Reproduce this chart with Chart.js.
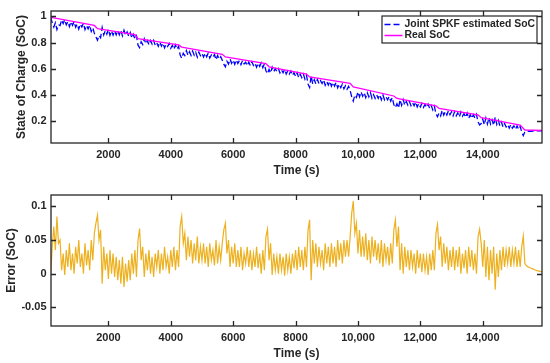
<!DOCTYPE html>
<html>
<head>
<meta charset="utf-8">
<script src="https://cdn.jsdelivr.net/npm/chart.js@4.4.1/dist/chart.umd.min.js"></script>
<style>
  html, body { margin: 0; padding: 0; background: #fff; }
  canvas { display: block; }
</style>
</head>
<body>
<canvas id="socChart" width="550" height="182"></canvas>
<canvas id="errChart" width="550" height="181"></canvas>
<script>
// sample times (s)
const timeS = [
  150, 200, 250, 300, 350, 400, 450, 500, 550, 600,
  650, 700, 750, 800, 850, 900, 950, 1000, 1050, 1100,
  1150, 1200, 1250, 1300, 1350, 1400, 1450, 1500, 1550, 1600,
  1650, 1700, 1750, 1800, 1850, 1900, 1950, 2000, 2050, 2100,
  2150, 2200, 2250, 2300, 2350, 2400, 2450, 2500, 2550, 2600,
  2650, 2700, 2750, 2800, 2850, 2900, 2950, 3000, 3050, 3100,
  3150, 3200, 3250, 3300, 3350, 3400, 3450, 3500, 3550, 3600,
  3650, 3700, 3750, 3800, 3850, 3900, 3950, 4000, 4050, 4100,
  4150, 4200, 4250, 4300, 4350, 4400, 4450, 4500, 4550, 4600,
  4650, 4700, 4750, 4800, 4850, 4900, 4950, 5000, 5050, 5100,
  5150, 5200, 5250, 5300, 5350, 5400, 5450, 5500, 5550, 5600,
  5650, 5700, 5750, 5800, 5850, 5900, 5950, 6000, 6050, 6100,
  6150, 6200, 6250, 6300, 6350, 6400, 6450, 6500, 6550, 6600,
  6650, 6700, 6750, 6800, 6850, 6900, 6950, 7000, 7050, 7100,
  7150, 7200, 7250, 7300, 7350, 7400, 7450, 7500, 7550, 7600,
  7650, 7700, 7750, 7800, 7850, 7900, 7950, 8000, 8050, 8100,
  8150, 8200, 8250, 8300, 8350, 8400, 8450, 8500, 8550, 8600,
  8650, 8700, 8750, 8800, 8850, 8900, 8950, 9000, 9050, 9100,
  9150, 9200, 9250, 9300, 9350, 9400, 9450, 9500, 9550, 9600,
  9650, 9700, 9750, 9800, 9850, 9900, 9950, 10000, 10050, 10100,
  10150, 10200, 10250, 10300, 10350, 10400, 10450, 10500, 10550, 10600,
  10650, 10700, 10750, 10800, 10850, 10900, 10950, 11000, 11050, 11100,
  11150, 11200, 11250, 11300, 11350, 11400, 11450, 11500, 11550, 11600,
  11650, 11700, 11750, 11800, 11850, 11900, 11950, 12000, 12050, 12100,
  12150, 12200, 12250, 12300, 12350, 12400, 12450, 12500, 12550, 12600,
  12650, 12700, 12750, 12800, 12850, 12900, 12950, 13000, 13050, 13100,
  13150, 13200, 13250, 13300, 13350, 13400, 13450, 13500, 13550, 13600,
  13650, 13700, 13750, 13800, 13850, 13900, 13950, 14000, 14050, 14100,
  14150, 14200, 14250, 14300, 14350, 14400, 14450, 14500, 14550, 14600,
  14650, 14700, 14750, 14800, 14850, 14900, 14950, 15000, 15050, 15100,
  15150, 15200, 15250, 15300, 15350, 15400, 15450, 15500, 15550, 15600,
  15650, 15700, 15750, 15800, 15850, 15900
];

// Joint SPKF estimated SoC, same times
const estSoc = [
  0.992, 0.950, 0.918, 0.951, 0.899, 0.936, 0.929, 0.972, 0.945, 0.974,
  0.935, 0.958, 0.921, 0.958, 0.931, 0.959, 0.917, 0.940, 0.902, 0.940,
  0.918, 0.946, 0.898, 0.929, 0.904, 0.932, 0.884, 0.912, 0.870, 0.843,
  0.818, 0.853, 0.836, 0.914, 0.858, 0.891, 0.864, 0.900, 0.855, 0.888,
  0.856, 0.889, 0.858, 0.891, 0.859, 0.892, 0.850, 0.893, 0.856, 0.881,
  0.848, 0.876, 0.834, 0.862, 0.825, 0.850, 0.780, 0.761, 0.806, 0.784,
  0.828, 0.791, 0.814, 0.782, 0.815, 0.788, 0.817, 0.780, 0.798, 0.771,
  0.804, 0.772, 0.795, 0.759, 0.787, 0.770, 0.793, 0.756, 0.779, 0.748,
  0.781, 0.749, 0.772, 0.704, 0.680, 0.718, 0.701, 0.739, 0.702, 0.730,
  0.702, 0.735, 0.703, 0.726, 0.689, 0.727, 0.700, 0.718, 0.690, 0.718,
  0.691, 0.719, 0.682, 0.705, 0.688, 0.709, 0.668, 0.701, 0.674, 0.692,
  0.665, 0.635, 0.615, 0.658, 0.636, 0.674, 0.642, 0.666, 0.634, 0.667,
  0.640, 0.663, 0.631, 0.664, 0.637, 0.650, 0.623, 0.651, 0.624, 0.652,
  0.625, 0.643, 0.612, 0.642, 0.618, 0.646, 0.609, 0.637, 0.585, 0.562,
  0.595, 0.568, 0.612, 0.578, 0.601, 0.579, 0.601, 0.569, 0.592, 0.569,
  0.595, 0.560, 0.583, 0.560, 0.583, 0.551, 0.571, 0.541, 0.569, 0.532,
  0.559, 0.532, 0.560, 0.522, 0.550, 0.484, 0.458, 0.546, 0.484, 0.517,
  0.486, 0.519, 0.487, 0.510, 0.488, 0.516, 0.475, 0.503, 0.476, 0.504,
  0.467, 0.495, 0.468, 0.497, 0.455, 0.483, 0.456, 0.484, 0.447, 0.471,
  0.444, 0.467, 0.435, 0.386, 0.354, 0.399, 0.382, 0.424, 0.386, 0.424,
  0.391, 0.418, 0.381, 0.418, 0.386, 0.418, 0.375, 0.403, 0.375, 0.402,
  0.375, 0.402, 0.364, 0.402, 0.364, 0.386, 0.364, 0.389, 0.353, 0.381,
  0.328, 0.304, 0.334, 0.302, 0.365, 0.322, 0.365, 0.323, 0.351, 0.323,
  0.351, 0.319, 0.342, 0.319, 0.347, 0.310, 0.335, 0.310, 0.336, 0.306,
  0.329, 0.306, 0.331, 0.297, 0.320, 0.287, 0.315, 0.258, 0.235, 0.263,
  0.241, 0.284, 0.247, 0.275, 0.248, 0.281, 0.250, 0.273, 0.241, 0.274,
  0.242, 0.265, 0.233, 0.271, 0.239, 0.259, 0.230, 0.263, 0.222, 0.250,
  0.223, 0.251, 0.224, 0.252, 0.195, 0.173, 0.183, 0.216, 0.174, 0.226,
  0.179, 0.227, 0.180, 0.212, 0.170, 0.232, 0.176, 0.208, 0.166, 0.194,
  0.157, 0.184, 0.157, 0.175, 0.148, 0.175, 0.148, 0.166, 0.139, 0.166,
  0.139, 0.162, 0.119, 0.091, 0.119, 0.122, 0.123, 0.124, 0.124, 0.125,
  0.126, 0.126, 0.127, 0.127, 0.127, 0.127
];

// estimation error (SoC), same times
const errSoc = [
  0.000, 0.040, 0.070, 0.035, 0.085, 0.045, 0.050, 0.005, 0.030, -0.002,
  0.035, 0.010, 0.045, 0.005, 0.030, 0.000, 0.040, 0.015, 0.050, 0.010,
  0.030, 0.000, 0.045, 0.012, 0.035, 0.005, 0.050, 0.020, 0.060, 0.075,
  0.087, 0.050, 0.065, -0.015, 0.040, 0.005, 0.030, -0.008, 0.035, 0.000,
  0.030, -0.005, 0.025, -0.010, 0.020, -0.015, 0.025, -0.020, 0.015, -0.012,
  0.020, -0.010, 0.030, 0.000, 0.035, -0.005, 0.050, 0.067, 0.020, 0.040,
  -0.005, 0.030, 0.005, 0.035, 0.000, 0.025, -0.005, 0.030, 0.010, 0.035,
  0.000, 0.030, 0.005, 0.040, 0.010, 0.025, 0.000, 0.035, 0.010, 0.040,
  0.005, 0.035, 0.010, 0.070, 0.085, 0.045, 0.060, 0.020, 0.055, 0.025,
  0.050, 0.015, 0.045, 0.020, 0.055, 0.015, 0.040, 0.020, 0.045, 0.015,
  0.040, 0.010, 0.045, 0.020, 0.035, 0.012, 0.050, 0.015, 0.040, 0.020,
  0.045, 0.065, 0.075, 0.030, 0.050, 0.010, 0.040, 0.015, 0.045, 0.010,
  0.035, 0.010, 0.040, 0.005, 0.030, 0.015, 0.040, 0.010, 0.035, 0.005,
  0.030, 0.010, 0.040, 0.008, 0.030, 0.000, 0.035, 0.005, 0.055, 0.066,
  0.020, 0.045, -0.002, 0.030, 0.005, 0.025, 0.000, 0.030, 0.005, 0.025,
  -0.003, 0.030, 0.005, 0.025, 0.000, 0.030, 0.008, 0.035, 0.005, 0.040,
  0.010, 0.035, 0.005, 0.040, 0.010, 0.065, 0.080, -0.010, 0.050, 0.015,
  0.045, 0.010, 0.040, 0.015, 0.035, 0.005, 0.045, 0.015, 0.040, 0.010,
  0.045, 0.015, 0.040, 0.010, 0.050, 0.020, 0.045, 0.015, 0.050, 0.025,
  0.050, 0.025, 0.055, 0.090, 0.108, 0.060, 0.075, 0.030, 0.065, 0.025,
  0.055, 0.025, 0.060, 0.020, 0.050, 0.015, 0.055, 0.025, 0.050, 0.020,
  0.045, 0.015, 0.050, 0.010, 0.045, 0.020, 0.040, 0.012, 0.045, 0.015,
  0.065, 0.080, 0.040, 0.070, 0.005, 0.045, 0.000, 0.040, 0.010, 0.035,
  0.005, 0.035, 0.010, 0.030, 0.000, 0.035, 0.008, 0.030, 0.002, 0.030,
  0.005, 0.025, -0.002, 0.030, 0.005, 0.035, 0.005, 0.060, 0.073, 0.035,
  0.055, 0.010, 0.045, 0.015, 0.040, 0.005, 0.035, 0.010, 0.040, 0.005,
  0.035, 0.010, 0.040, 0.000, 0.030, 0.008, 0.035, 0.000, 0.040, 0.010,
  0.035, 0.005, 0.030, 0.000, 0.055, 0.066, 0.045, 0.010, 0.050, -0.005,
  0.040, -0.010, 0.035, 0.000, 0.040, -0.024, 0.030, -0.005, 0.035, 0.005,
  0.040, 0.010, 0.035, 0.015, 0.040, 0.010, 0.035, 0.015, 0.040, 0.010,
  0.035, 0.010, 0.040, 0.056, 0.015, 0.012, 0.010, 0.009, 0.008, 0.007,
  0.006, 0.005, 0.004, 0.004, 0.003, 0.003
];

// real SoC, breakpoints
const realTime = [160, 1550, 1650, 2850, 2950, 4250, 4350, 5650, 5750, 7050, 7150, 8350,
  8450, 9750, 9850, 11150, 11250, 12500, 12600, 13850, 13950, 15200, 15350, 15900];
const realSoc = [0.992, 0.93, 0.905, 0.86, 0.83, 0.782, 0.765, 0.71, 0.69, 0.64, 0.615, 0.56,
  0.538, 0.49, 0.462, 0.393, 0.374, 0.318, 0.298, 0.25, 0.228, 0.172, 0.134, 0.13];

const xTickValues = [2000, 4000, 6000, 8000, 10000, 12000, 14000];
const xTickLabels = ['2000', '4000', '6000', '8000', '10,000', '12,000', '14,000'];
const socTickValues = [0.2, 0.4, 0.6, 0.8, 1];
const socTickLabels = ['0.2', '0.4', '0.6', '0.8', '1'];
const errTickValues = [-0.05, 0, 0.05, 0.1];
const errTickLabels = ['-0.05', '0', '0.05', '0.1'];

const seriesNames = ['Joint SPKF estimated SoC', 'Real SoC'];
const axisColor = '#262626';
const fontFamily = '"Liberation Sans", Arial, Helvetica, sans-serif';

Chart.defaults.font.family = fontFamily;
Chart.defaults.font.weight = 'bold';
Chart.defaults.color = axisColor;

function toPoints(xs, ys) {
    return xs.map((x, i) => ({ x: x, y: ys[i] }));
}

// box + inward ticks on all four sides
const frameTicks = {
    id: 'frameTicks',
    afterDatasetsDraw(chart) {
        const { ctx, chartArea: a, scales } = chart;
        const len = 5;
        ctx.save();
        ctx.strokeStyle = axisColor;
        ctx.lineWidth = 1.3;
        ctx.beginPath();
        scales.x.ticks.forEach(t => {
            const px = Math.round(scales.x.getPixelForValue(t.value)) + 0.5;
            ctx.moveTo(px, a.bottom); ctx.lineTo(px, a.bottom - len);
            ctx.moveTo(px, a.top); ctx.lineTo(px, a.top + len);
        });
        scales.y.ticks.forEach(t => {
            const py = Math.round(scales.y.getPixelForValue(t.value)) + 0.5;
            ctx.moveTo(a.left, py); ctx.lineTo(a.left + len, py);
            ctx.moveTo(a.right, py); ctx.lineTo(a.right - len, py);
        });
        ctx.stroke();
        ctx.strokeRect(a.left, a.top, a.right - a.left, a.bottom - a.top);
        ctx.restore();
    }
};

// boxed legend at top right of the SoC plot
const boxLegend = {
    id: 'boxLegend',
    afterDraw(chart) {
        const { ctx, chartArea: a } = chart;
        const x0 = a.right - 160, y0 = a.top + 5, w = 155, h = 27;
        ctx.save();
        ctx.fillStyle = '#fff';
        ctx.fillRect(x0, y0, w, h);
        ctx.strokeStyle = axisColor;
        ctx.lineWidth = 1.2;
        ctx.strokeRect(x0, y0, w, h);
        const rows = [y0 + 8.5, y0 + 19.5];
        chart.data.datasets.forEach((ds, i) => {
            ctx.strokeStyle = ds.borderColor;
            ctx.lineWidth = 1.5;
            ctx.setLineDash(ds.borderDash || []);
            ctx.beginPath();
            ctx.moveTo(x0 + 2.5, rows[i]);
            ctx.lineTo(x0 + 20.5, rows[i]);
            ctx.stroke();
            ctx.setLineDash([]);
            ctx.fillStyle = axisColor;
            ctx.font = 'bold 10.4px ' + fontFamily;
            ctx.textBaseline = 'middle';
            ctx.textAlign = 'left';
            ctx.fillText(ds.label, x0 + 22.5, rows[i]);
        });
        ctx.restore();
    }
};

function xScale(axisHeight, labelPad, titlePad) {
    return {
        type: 'linear',
        min: 160,
        max: 15900,
        grid: { display: false, drawTicks: false },
        border: { display: false },
        afterBuildTicks: s => { s.ticks = xTickValues.map(v => ({ value: v })); },
        afterFit: s => { s.height = axisHeight; },
        ticks: {
            autoSkip: false,
            maxRotation: 0,
            padding: labelPad,
            font: { size: 11, weight: 'bold', lineHeight: 1 },
            callback: (v, i) => xTickLabels[i]
        },
        title: {
            display: true,
            text: 'Time (s)',
            font: { size: 12, weight: 'bold', lineHeight: 1 },
            padding: { top: 0, bottom: titlePad }
        }
    };
}

function yScale(min, max, values, labels, title, titlePad) {
    return {
        type: 'linear',
        min: min,
        max: max,
        grid: { display: false, drawTicks: false },
        border: { display: false },
        afterBuildTicks: s => { s.ticks = values.map(v => ({ value: v })); },
        afterFit: s => { s.width = 51; },
        ticks: {
            padding: 4.5,
            font: { size: 11, weight: 'bold', lineHeight: 1 },
            callback: (v, i) => labels[i]
        },
        title: {
            display: true,
            text: title,
            font: { size: 12, weight: 'bold', lineHeight: 1 },
            padding: { top: titlePad, bottom: 0 }
        }
    };
}

new Chart(document.getElementById('socChart'), {
    type: 'line',
    data: {
        datasets: [
            {
                label: seriesNames[0],
                data: toPoints(timeS, estSoc),
                borderColor: '#0000ff',
                borderWidth: 1.3,
                borderDash: [6, 3],
                pointRadius: 0,
                tension: 0,
                order: 2
            },
            {
                label: seriesNames[1],
                data: toPoints(realTime, realSoc),
                borderColor: '#ff00ff',
                borderWidth: 1.3,
                pointRadius: 0,
                tension: 0,
                order: 1
            }
        ]
    },
    options: {
        responsive: false,
        animation: false,
        devicePixelRatio: 1,
        layout: { padding: { top: 11, right: 8, left: 0, bottom: 0 } },
        plugins: { legend: { display: false }, tooltip: { enabled: false } },
        scales: {
            x: xScale(39, 6, 5.5),
            y: yScale(0.035, 1.04, socTickValues, socTickLabels, 'State of Charge (SoC)', 16)
        }
    },
    plugins: [frameTicks, boxLegend]
});

new Chart(document.getElementById('errChart'), {
    type: 'line',
    data: {
        datasets: [{
            label: 'Error',
            data: toPoints(timeS, errSoc),
            borderColor: '#edb120',
            borderWidth: 1.2,
            pointRadius: 0,
            tension: 0
        }]
    },
    options: {
        responsive: false,
        animation: false,
        devicePixelRatio: 1,
        layout: { padding: { top: 13, right: 8, left: 0, bottom: 0 } },
        plugins: { legend: { display: false }, tooltip: { enabled: false } },
        scales: {
            x: xScale(37, 6, 3.5),
            y: yScale(-0.078, 0.117, errTickValues, errTickLabels, 'Error (SoC)', 6)
        }
    },
    plugins: [frameTicks]
});
</script>
</body>
</html>
